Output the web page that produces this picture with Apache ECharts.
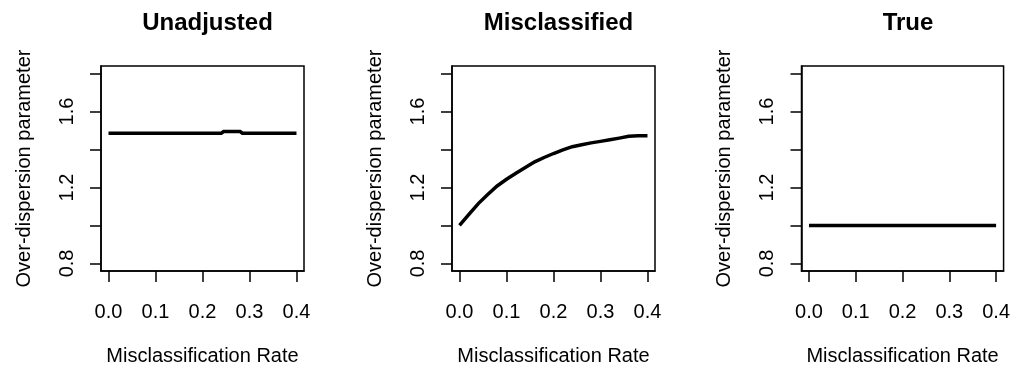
<!DOCTYPE html>
<html>
<head>
<meta charset="utf-8">
<script src="https://cdn.jsdelivr.net/npm/echarts@6/dist/echarts.min.js"></script>
<style>
html,body{margin:0;padding:0;background:#fff;}
#chart{width:1013px;height:371px;}
</style>
</head>
<body>
<div id="chart"></div>
<script>
// ---- data ----
const panelTitles = ['Unadjusted', 'Misclassified', 'True'];
const xTitle = 'Misclassification Rate';
const yTitle = 'Over-dispersion parameter';
const xTicks = [0, 0.1, 0.2, 0.3, 0.4];
const yTicks = [0.8, 1.0, 1.2, 1.4, 1.6, 1.8];
const yLabels = [0.8, 1.2, 1.6];

const unadjustedRate = [0, 0.159, 0.16, 0.161, 0.24, 0.245, 0.28, 0.285, 0.40];
const unadjustedPhi  = [1.486, 1.486, 1.494, 1.486, 1.486, 1.495, 1.495, 1.486, 1.486];

const misRate = [0, 0.02, 0.04, 0.06, 0.08, 0.10, 0.12, 0.14, 0.16, 0.18, 0.20,
                 0.22, 0.24, 0.26, 0.28, 0.30, 0.32, 0.34, 0.36, 0.38, 0.40];
const misPhi  = [1.00, 1.058, 1.115, 1.163, 1.208, 1.243, 1.275, 1.305, 1.335, 1.358, 1.379,
                 1.398, 1.415, 1.425, 1.435, 1.443, 1.451, 1.460, 1.470, 1.472, 1.472];

const trueRate = [0, 0.40];
const truePhi  = [1.00, 1.00];

const seriesRates = [unadjustedRate, misRate, trueRate];
const seriesPhis  = [unadjustedPhi, misPhi, truePhi];

// ---- layout ----
const FONT = '"Liberation Sans", Arial, Helvetica, sans-serif';
const gridLefts = [101, 452, 801.5];
const gridTop = 66, gridW = 203, gridH = 209;

const chart = echarts.init(document.getElementById('chart'), null, {renderer: 'canvas'});

const grids = [], xAxes = [], yAxes = [], series = [], titles = [];
for (let i = 0; i < 3; i++) {
  grids.push({left: gridLefts[i], top: gridTop, width: gridW, height: gridH,
    show: true, borderColor: '#000', borderWidth: 1.5, backgroundColor: 'transparent', containLabel: false});
  titles.push({text: panelTitles[i], left: gridLefts[i] + gridW / 2, top: 6, textAlign: 'center',
    textStyle: {fontFamily: FONT, fontSize: 24, fontWeight: 'bold', color: '#000'}});
  xAxes.push({type: 'value', gridIndex: i, min: -0.016, max: 0.416,
    splitLine: {show: false},
    axisLine: {show: true, onZero: false, lineStyle: {color: '#000', width: 1.5}},
    axisTick: {show: true, customValues: xTicks, length: 11, inside: false, lineStyle: {color: '#000', width: 1.5}},
    axisLabel: {show: true, customValues: xTicks, margin: 31,
      formatter: v => v.toFixed(1), fontFamily: FONT, fontSize: 20, color: '#000'},
    name: xTitle, nameLocation: 'middle', nameGap: 75,
    nameTextStyle: {fontFamily: FONT, fontSize: 20, color: '#000'}});
  yAxes.push({type: 'value', gridIndex: i, min: 0.76, max: 1.84,
    splitLine: {show: false},
    axisLine: {show: true, onZero: false, lineStyle: {color: '#000', width: 1.5}},
    axisTick: {show: true, customValues: yTicks, length: 11, inside: false, lineStyle: {color: '#000', width: 1.5}},
    axisLabel: {show: true, customValues: yLabels, rotate: 90, margin: 24,
      formatter: v => v.toFixed(1), fontFamily: FONT, fontSize: 20, color: '#000'},
    name: yTitle, nameLocation: 'middle', nameGap: 67, nameRotate: 90,
    nameTextStyle: {fontFamily: FONT, fontSize: 20, color: '#000'}});
  series.push({type: 'line', xAxisIndex: i, yAxisIndex: i,
    data: seriesRates[i].map((r, k) => [r, seriesPhis[i][k]]),
    showSymbol: false, symbol: 'none', smooth: false, animation: false,
    lineStyle: {color: '#000', width: 3.5, cap: 'butt', join: 'miter'}});
}

chart.setOption({
  animation: false,
  backgroundColor: '#fff',
  title: titles,
  grid: grids,
  xAxis: xAxes,
  yAxis: yAxes,
  series: series
});
</script>
</body>
</html>
